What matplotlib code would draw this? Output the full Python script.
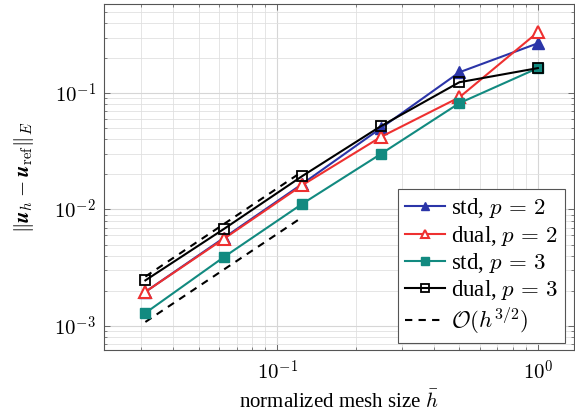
"""Convergence plot: energy-norm error vs. normalized mesh size."""

import numpy as np
import matplotlib

matplotlib.use("Agg")
import matplotlib.pyplot as plt
from matplotlib.ticker import LogLocator, FuncFormatter, NullFormatter

plt.rcParams["font.family"] = ["Liberation Serif", "DejaVu Serif"]
plt.rcParams["mathtext.fontset"] = "cm"

# mesh sizes
h = [1 / 32, 1 / 16, 1 / 8, 1 / 4, 1 / 2, 1.0]

err_std_p2 = [1.96e-3, 5.7e-3, 0.0166, 0.050, 0.151, 0.268]
err_dual_p2 = [1.96e-3, 5.6e-3, 0.0162, 0.042, 0.092, 0.334]
err_std_p3 = [1.29e-3, 3.9e-3, 0.0112, 0.030, 0.082, 0.164]
err_dual_p3 = [2.46e-3, 6.8e-3, 0.0194, 0.052, 0.124, 0.164]

# O(h^{3/2}) guide lines
h_ref = [1 / 32, 1 / 8]
ref_upper = [2.65e-3, 0.0212]
ref_lower = [1.08e-3, 8.6e-3]

BLUE = "#2b35a8"
RED = "#ee3030"
TEAL = "#128a80"

fig = plt.figure(figsize=(5.75, 4.17), dpi=100)
ax = fig.add_axes([0.181, 0.161, 0.817, 0.829])

ax.plot(h, err_std_p2, color=BLUE, lw=1.5, marker="^", ms=8,
        mfc=BLUE, mec=BLUE, label=r"std, $p\,=\,2$", zorder=3)
ax.plot(h, err_dual_p2, color=RED, lw=1.5, marker="^", ms=8,
        mfc="white", mec=RED, mew=1.5, label=r"dual, $p\,=\,2$", zorder=3)
ax.plot(h, err_std_p3, color=TEAL, lw=1.5, marker="s", ms=7,
        mfc=TEAL, mec=TEAL, label=r"std, $p\,=\,3$", zorder=3)
ax.plot(h, err_dual_p3, color="black", lw=1.5, marker="s", ms=7,
        mfc="none", mec="black", mew=1.3, label=r"dual, $p\,=\,3$", zorder=4)
ax.plot(h_ref, ref_upper, color="black", lw=1.5, ls=(0, (3.5, 3)),
        label=r"$\mathcal{O}(h^{3/2})$", zorder=2)
ax.plot(h_ref, ref_lower, color="black", lw=1.5, ls=(0, (3.5, 3)), zorder=2)

ax.set_xscale("log")
ax.set_yscale("log")
ax.set_xlim(0.0217, 1.374)
ax.set_ylim(6.22e-4, 0.581)

dec = FuncFormatter(lambda v, pos: r"$10^{%d}$" % int(round(np.log10(v))))
for axis in (ax.xaxis, ax.yaxis):
    axis.set_major_locator(LogLocator(base=10, numticks=10))
    axis.set_minor_locator(LogLocator(base=10, subs=np.arange(2, 10), numticks=20))
    axis.set_major_formatter(dec)
    axis.set_minor_formatter(NullFormatter())

ax.tick_params(which="both", direction="in", top=True, right=True,
               color="#555555", labelsize=15)
ax.tick_params(which="major", length=4, width=0.6)
ax.tick_params(which="minor", length=2.5, width=0.5)
ax.tick_params(axis="x", pad=8)
ax.tick_params(axis="y", pad=6)

ax.grid(True, which="major", color="#d6d6d6", lw=0.8)
ax.grid(True, which="minor", color="#e0e0e0", lw=0.6)
ax.set_axisbelow(True)
for sp in ax.spines.values():
    sp.set_color("#555555")
    sp.set_linewidth(0.8)

ax.set_xlabel(r"normalized mesh size $\bar{h}$", fontsize=15, labelpad=4)
ax.set_ylabel(r"$\Vert\mathbfit{u}_h - \mathbfit{u}_{\mathrm{ref}}\Vert_E$",
              fontsize=15)
ax.yaxis.set_label_coords(-0.145, 0.5)

leg = ax.legend(loc="lower right", bbox_to_anchor=(0.981, 0.02),
                borderaxespad=0, fontsize=16.5, fancybox=False,
                handlelength=1.75, handletextpad=0.25, labelspacing=0.14,
                borderpad=0.3, framealpha=1, markerscale=0.75)
leg.get_frame().set_edgecolor("#555555")
leg.get_frame().set_linewidth(0.8)

fig.savefig("out.png", dpi=100)
